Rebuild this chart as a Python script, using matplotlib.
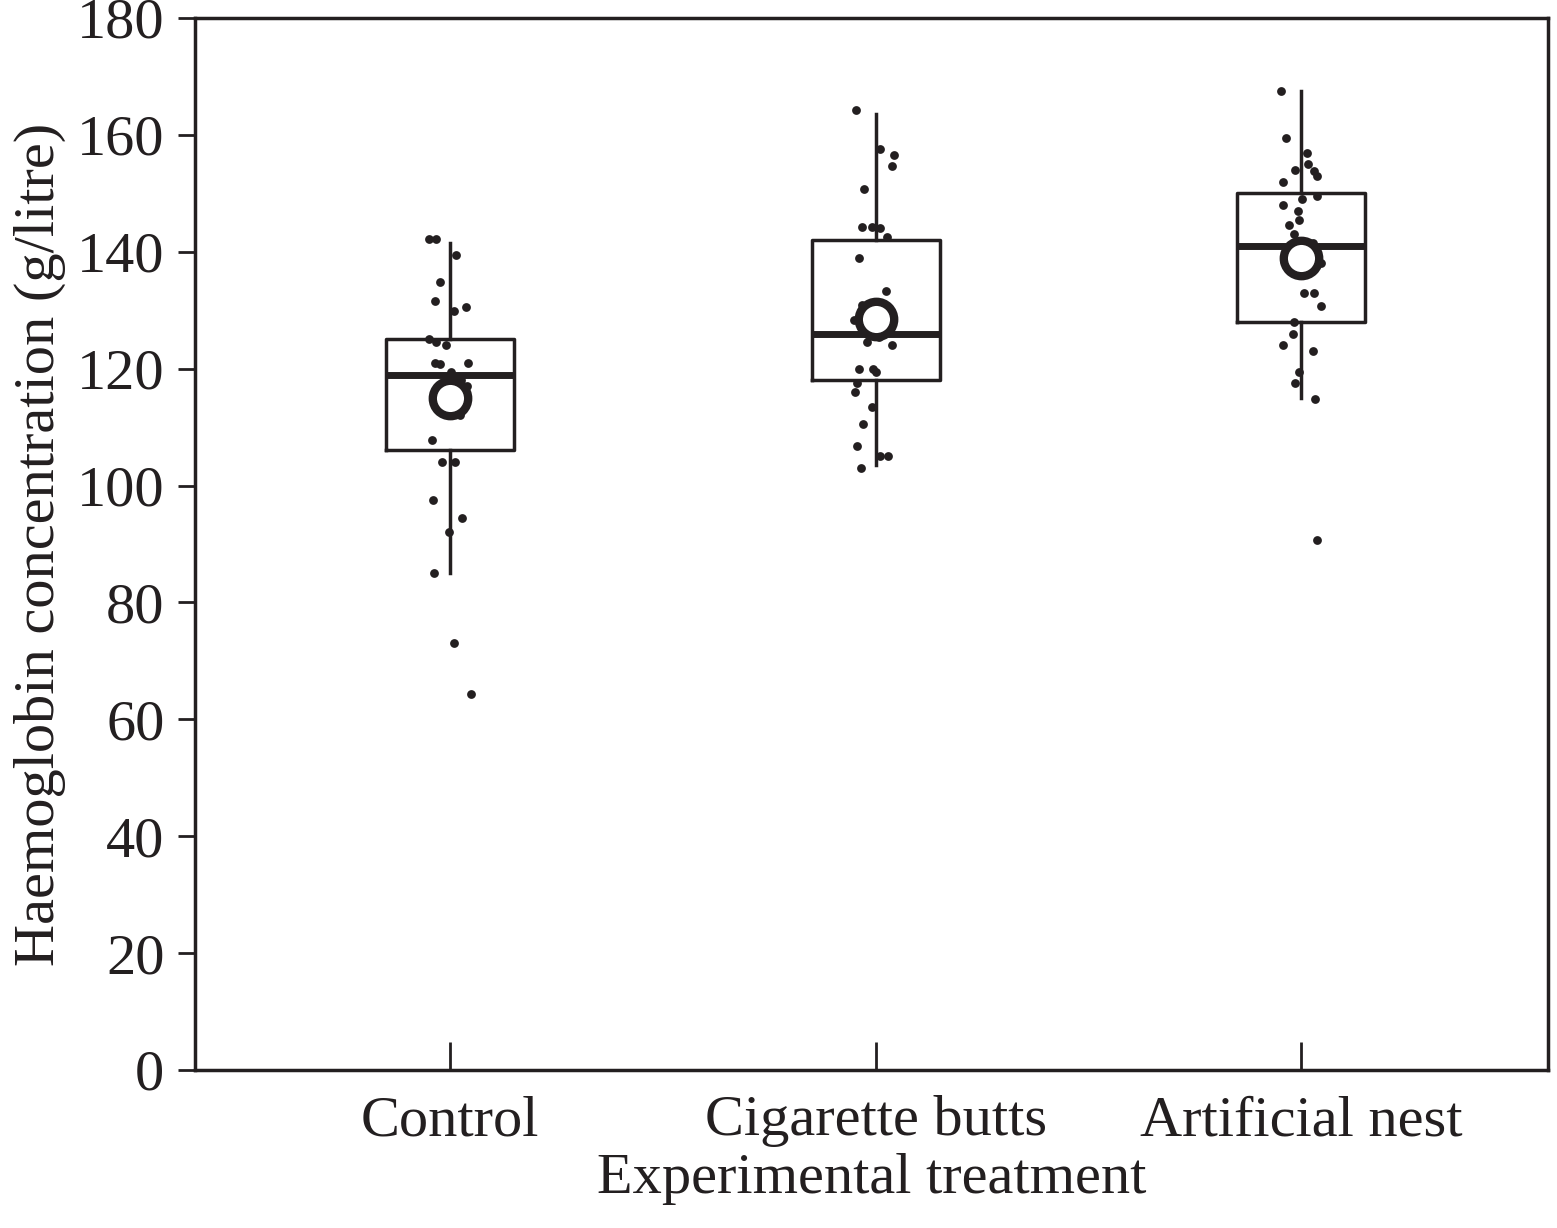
import numpy as np
import matplotlib
matplotlib.use("Agg")
import matplotlib.pyplot as plt

plt.rcParams['font.family'] = ['Liberation Serif', 'DejaVu Serif']

categories = ["Control", "Cigarette butts", "Artificial nest"]

# box statistics: whislo, q1, median, q3, whishi, mean
whislo = [85, 103.5, 115]
q1 = [106, 118, 128]
median = [119, 126, 141]
q3 = [125, 142, 150]
whishi = [141.5, 163.5, 167.5]
means = [115, 128.5, 139]

# individual points: (pixel offset from category centre, value)
control_pts = [(-21, 142.2), (-14, 142.2), (6, 139.5), (-10, 134.8), (-15, 131.5), (16, 130.5),
               (4, 129.8), (-21, 125), (-14, 124.5), (-4, 124), (-15, 121), (-10, 120.8),
               (18, 121), (1, 119.5), (11, 118), (-10, 117), (17, 117), (-7, 115), (15, 114),
               (10, 112), (-18, 107.8), (-8, 104), (5, 104), (-17, 97.5), (12, 94.5),
               (-1, 92), (-16, 85), (4, 73), (21, 64.3)]
cig_pts = [(-20, 164.3), (4, 157.5), (18, 156.5), (16, 154.7), (-12, 150.7), (-14, 144.3),
           (-4, 144.2), (4, 144), (11, 142.5), (-17, 139), (10, 133.3), (-14, 130.9),
           (-4, 130.5), (-22, 128.3), (2, 128), (-11, 126.5), (3, 125.5), (-9, 124.5),
           (16, 124), (-17, 120), (-3, 120), (0, 119.5), (-19, 117.5), (-21, 116),
           (-4, 113.5), (-13, 110.5), (-19, 106.8), (4, 105), (12, 105), (-15, 103)]
nest_pts = [(-20, 167.5), (-15, 159.4), (6, 156.9), (7, 155), (13, 153.8), (16, 153),
            (-6, 154), (-18, 152), (16, 149.5), (1, 149), (-18, 148), (-3, 147),
            (-2, 145.5), (-12, 144.5), (-7, 143), (-3, 141), (12, 141.5), (-15, 140.5),
            (-17, 138.5), (20, 138), (16, 138), (3, 133), (13, 133), (20, 130.7),
            (-7, 128), (-8, 126), (-18, 124), (12, 123), (-2, 119.5), (-6, 117.5),
            (14, 114.8), (16, 90.7)]
points = [control_pts, cig_pts, nest_pts]

fig = plt.figure(figsize=(15.57, 12.28), dpi=100)
ax = fig.add_axes([195 / 1557, 1 - 1070 / 1228, (1548 - 195) / 1557, (1070 - 18) / 1228])

positions = np.arange(1, 4)
stats = [dict(whislo=whislo[i], q1=q1[i], med=median[i], q3=q3[i], whishi=whishi[i], fliers=[])
         for i in range(3)]
ax.bxp(stats, positions=positions, widths=0.3, showcaps=False, showfliers=False,
       boxprops=dict(color='#231f20', linewidth=2.5),
       whiskerprops=dict(color='#231f20', linewidth=2.5),
       medianprops=dict(color='#231f20', linewidth=5), zorder=2)

px_per_unit = 1353 / 3.18  # pixels per category step
for pos, pts in zip(positions, points):
    xs = [pos + dx / px_per_unit for dx, _ in pts]
    ys = [v for _, v in pts]
    ax.scatter(xs, ys, s=40, color='#231f20', zorder=3, linewidths=0)

ax.scatter(positions, means, s=650, facecolor='white', edgecolor='#231f20', linewidths=6, zorder=4)

ax.set_xlim(0.4, 3.58)
ax.set_ylim(0, 180)
ax.set_yticks(range(0, 181, 20))
ax.set_xticks(positions)
ax.set_xticklabels(categories)
for s in ax.spines.values():
    s.set_linewidth(2.5)
    s.set_color('#231f20')
ax.tick_params(labelsize=42, length=12, width=2, color='#231f20', labelcolor='#231f20', pad=10)
ax.tick_params(axis='x', direction='in', length=20, pad=18)
ax.set_ylabel("Haemoglobin concentration (g/litre)", fontsize=42, color='#231f20', labelpad=8)
ax.set_xlabel("Experimental treatment", fontsize=42, color='#231f20', labelpad=4)

fig.savefig("out.png", dpi=100)
